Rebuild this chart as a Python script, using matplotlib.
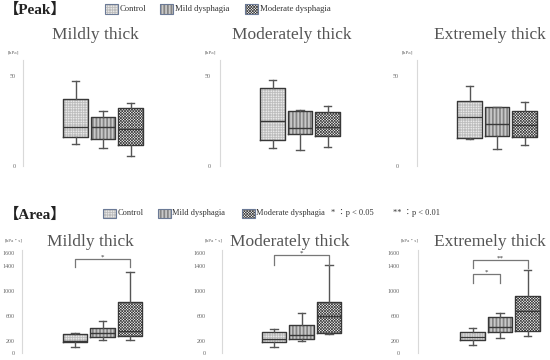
import matplotlib
matplotlib.use("Agg")
import matplotlib.pyplot as plt
from matplotlib.patches import Rectangle

# ---------------- data ----------------
thickness = ["Mildly thick", "Moderately thick", "Extremely thick"]
groups = ["Control", "Mild dysphagia", "Moderate dysphagia"]

# box stats per panel: [whisker low, Q1, median, Q3, whisker high]
peak_control = [[12.0, 15.9, 21.9, 37.2, 47.4],
                [10.0, 14.4, 24.8, 43.5, 47.8],
                [15.2, 15.6, 27.2, 36.1, 44.4]]
peak_mild = [[9.8, 15.0, 21.7, 27.0, 30.4],
             [8.9, 17.6, 21.1, 30.6, 31.3],
             [9.7, 16.7, 23.3, 33.0, 33.0]]
peak_moderate = [[5.6, 11.9, 20.4, 32.2, 34.8],
                 [10.4, 16.9, 21.9, 29.8, 33.3],
                 [11.9, 15.9, 23.0, 30.4, 35.8]]

area_control = [[96, 176, 200, 314, 320],
                [96, 187, 229, 336, 384],
                [137, 212, 260, 335, 399]]
area_mild = [[218, 256, 320, 410, 512],
             [192, 224, 293, 458, 640],
             [244, 340, 415, 584, 648]]
area_moderate = [[213, 277, 362, 826, 1306],
                 [309, 330, 592, 826, 1413],
                 [281, 351, 680, 919, 1334]]

peak_ticks = [0, 50]
area_ticks = [0, 200, 600, 1000, 1400, 1600]

# significance: (group a, group b, label, bracket top, leg bottom) per panel
area_sig = [[(0, 2, "*", 1504, 1376)],
            [(0, 2, "*", 1573, 1413)],
            [(0, 1, "*", 1265, 1132), (0, 2, "**", 1494, 1372)]]

# ---------------- style ----------------
W, H = 550, 360
SERIF = ['Liberation Serif', 'Noto Sans CJK JP']
plt.rcParams['font.family'] = SERIF
plt.rcParams['hatch.linewidth'] = 0.5

hatches = ['+' * 10, '|' * 12, 'x' * 12]
hatch_colors = ['#bdbdbd', '#505050', '#404040']

fig = plt.figure(figsize=(5.5, 3.6), dpi=100)


def fx(px):
    return px / W


def fy(py):
    return 1 - py / H


def make_ax(spine_x, top_px, zero_px, ref_val, ref_px, ctrl_px, pad, ticks,
            width=128, unit=27.5):
    ax = fig.add_axes([fx(spine_x), fy(zero_px), width / W, (zero_px - top_px) / H])
    ymax = ref_val * (zero_px - top_px) / (zero_px - ref_px)
    ax.set_ylim(0, ymax)
    x0 = 1 - (ctrl_px - spine_x) / unit
    ax.set_xlim(x0, x0 + width / unit)
    for s in ['top', 'right', 'bottom']:
        ax.spines[s].set_visible(False)
    ax.spines['left'].set_color('#d9d9d9')
    ax.spines['left'].set_linewidth(0.8)
    ax.set_xticks([])
    ax.set_yticks(ticks)
    ax.set_yticklabels([str(t) for t in ticks])
    ax.tick_params(axis='y', length=0, labelsize=4.3, colors='#666666', pad=pad)
    ax.patch.set_alpha(0)
    return ax


def draw_boxes(ax, stats_per_group):
    for i, st in enumerate(stats_per_group):
        d = dict(whislo=st[0], q1=st[1], med=st[2], q3=st[3], whishi=st[4], fliers=[])
        ax.bxp([d], positions=[i + 1], widths=0.9, patch_artist=True,
               showcaps=False,
               boxprops=dict(facecolor='white', edgecolor=hatch_colors[i],
                             hatch=hatches[i], linewidth=0),
               whiskerprops=dict(linewidth=0), medianprops=dict(linewidth=0),
               manage_ticks=False)
        ax.bxp([d], positions=[i + 1], widths=0.9, capwidths=0.28,
               boxprops=dict(color='#383838', linewidth=1.0),
               whiskerprops=dict(color='#555555', linewidth=1.0),
               capprops=dict(color='#555555', linewidth=1.0),
               medianprops=dict(color='#383838', linewidth=1.0),
               manage_ticks=False)


# ---------------- Peak row ----------------
peak_spines = [23, 220, 417]
peak_ctrl = [75.5, 272.5, 469.5]
peak_pads = [5, 7, 13]
peak_title_x = [95, 292, 490]
for k in range(3):
    ax = make_ax(peak_spines[k], 60, 166, 50, 76, peak_ctrl[k], peak_pads[k], peak_ticks)
    draw_boxes(ax, [peak_control[k], peak_mild[k], peak_moderate[k]])
    fig.text(fx(peak_title_x[k]), fy(35), thickness[k], ha='center', va='center',
             fontsize=12.5, color='#555555')
    fig.text(fx(peak_spines[k] - 10), fy(52), "[hPa]", ha='center', va='center',
             fontsize=3.8, color='#666666')

# ---------------- Area row ----------------
area_spines = [22, 222, 418]
area_ctrl = [75, 274, 472.5]
area_pads = [5, 12, 13]
area_title_x = [90, 290, 490]
for k in range(3):
    ax = make_ax(area_spines[k], 250, 353.3, 1600, 253.3, area_ctrl[k], area_pads[k], area_ticks)
    draw_boxes(ax, [area_control[k], area_mild[k], area_moderate[k]])
    for a, b, lab, ytop, ybot in area_sig[k]:
        ax.plot([a + 1, a + 1, b + 1, b + 1], [ybot, ytop, ytop, ybot],
                color='#777777', linewidth=0.9, clip_on=False)
        ax.text((a + b) / 2 + 1, ytop + 10, lab, ha='center', va='baseline',
                fontsize=5.0, color='#333333', clip_on=False)
    fig.text(fx(area_title_x[k]), fy(242), thickness[k], ha='center', va='center',
             fontsize=12.5, color='#555555')
    fig.text(fx(area_spines[k] - 8), fy(240), "[hPa・s]", ha='center', va='center',
             fontsize=3.6, color='#666666')

# ---------------- headers & legends ----------------
fig.text(fx(4), fy(10), "【Peak】", ha='left', va='center', fontsize=11,
         color='#222222', fontweight='bold')
fig.text(fx(4), fy(215), "【Area】", ha='left', va='center', fontsize=11,
         color='#222222', fontweight='bold')


def legend_row(y, patch_x, text_x, size):
    for i in range(3):
        r = Rectangle((fx(patch_x[i]), fy(y + 4.5)), 13 / W, 9 / H,
                      transform=fig.transFigure, facecolor='white',
                      edgecolor=hatch_colors[i], hatch=hatches[i], linewidth=0)
        fig.add_artist(r)
        r2 = Rectangle((fx(patch_x[i]), fy(y + 4.5)), 13 / W, 9 / H,
                       transform=fig.transFigure, facecolor='none',
                       edgecolor='#6b7a96', linewidth=0.8)
        fig.add_artist(r2)
        fig.text(fx(text_x[i]), fy(y), groups[i], ha='left', va='center',
                 fontsize=size, color='#333333')


legend_row(9, [105, 160, 245], [120, 175, 260], 6.2)
legend_row(213, [103, 158, 242], [118, 172, 256], 6.0)
fig.text(fx(331), fy(213), "* ：p < 0.05", ha='left', va='center', fontsize=6.0,
         color='#333333')
fig.text(fx(393), fy(213), "** ：p < 0.01", ha='left', va='center', fontsize=6.0,
         color='#333333')

fig.savefig("out.png", dpi=100)
